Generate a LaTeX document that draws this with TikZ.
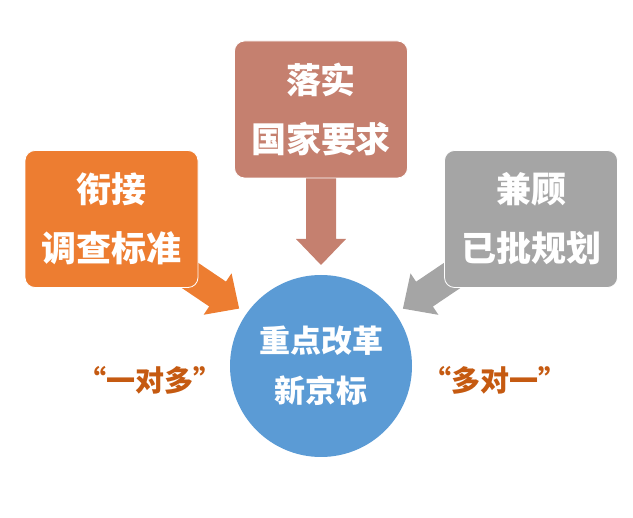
\documentclass[tikz,border=0pt]{standalone}
\usepackage{fontspec}
\newfontfamily\cjk{Noto Sans CJK SC}
\usetikzlibrary{calc}
\definecolor{leftorange}{HTML}{ED7D31}
\definecolor{topbrown}{HTML}{C5806F}
\definecolor{rightgray}{HTML}{A5A5A5}
\definecolor{hubblue}{HTML}{5B9BD5}
\definecolor{labelrust}{HTML}{C55A11}
\pgfdeclarelayer{background}
\pgfsetlayers{background,main}
% block arrow: tip at #2, pointing along angle #3
\def\blockarrow[#1](#2)(#3){\fill[#1, shift={(#2)}, rotate=#3] (-95,-15) -- (-26,-15) -- (-26,-25) -- (0,0) -- (-26,25) -- (-26,15) -- (-95,15) -- cycle;}

\begin{document}
\begin{tikzpicture}[x=1pt, y=-1pt,
	topic/.style={rounded corners=10pt, draw=white, line width=0.8pt, minimum width=173pt, minimum height=137pt, inner sep=0pt, text=white, align=center, font=\cjk\bfseries\fontsize{35}{59}\selectfont},
	hub/.style={circle, minimum size=182pt, inner sep=0pt, fill=hubblue, text=white, align=center, font=\cjk\bfseries\fontsize{31}{50}\selectfont},
	tag/.style={text=labelrust, font=\cjk\bfseries\fontsize{29}{35}\selectfont}]
	%%%%% START %%%%%
	
	\useasboundingbox (0,0) rectangle (633,518);
	
	\node[hub] (hub) at (321,366) {重点改革\\新京标};
	
	\node[topic, fill=topbrown] (top) at (321,109.5) {落实\\国家要求};
	\node[topic, fill=leftorange] (left) at (111.5,219) {衔接\\调查标准};
	\node[topic, fill=rightgray] (right) at (531,219) {兼顾\\已批规划};
	
	\coordinate (tipT) at ($(hub)!101pt!(top)$);
	\coordinate (tipL) at ($(hub)!100pt!(left)$);
	\coordinate (tipR) at ($(hub)!100pt!(right)$);
	
	\begin{pgfonlayer}{background}
		\blockarrow[topbrown](tipT)(-90);
		\blockarrow[leftorange](tipL)(-34);
		\blockarrow[rightgray](tipR)(-146);
	\end{pgfonlayer}
	
	\node[tag] (onemany) at (150,380) {“一对多”};
	\node[tag] (manyone) at (495,380) {“多对一”};
	
	%%%%% END %%%%%
\end{tikzpicture}
\end{document}
